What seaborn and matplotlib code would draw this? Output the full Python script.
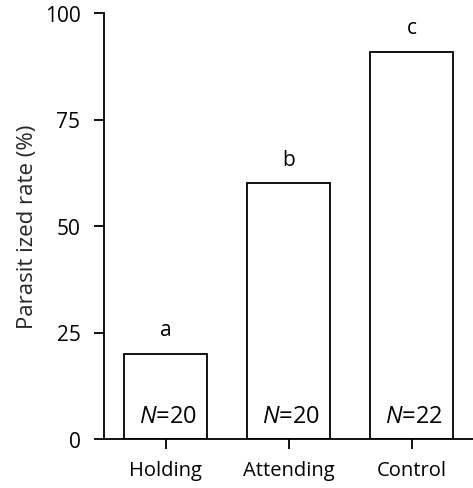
import matplotlib
matplotlib.use("Agg")
import matplotlib.pyplot as plt
import seaborn as sns
import pandas as pd

categories = ["Holding", "Attending", "Control"]
rates = [20.0, 60.0, 90.9]
letters = ["a", "b", "c"]
sample_sizes = [20, 20, 22]
yticks = [0, 25, 50, 75, 100]

sns.set_theme(style="ticks")
plt.rcParams["font.family"] = ["Open Sans", "DejaVu Sans"]
plt.rcParams["mathtext.fontset"] = "custom"
plt.rcParams["mathtext.it"] = "Open Sans:italic"
plt.rcParams["mathtext.rm"] = "Open Sans"

df = pd.DataFrame({"group": categories, "rate": rates})

fig = plt.figure(figsize=(4.73, 4.89), dpi=100)
ax = fig.add_axes([104 / 473, 1 - 440 / 489, 1 - 104 / 473, (440 - 14) / 489])

sns.barplot(data=df, x="group", y="rate", color="white", edgecolor="black",
            linewidth=1.3, width=0.67, saturation=1, ax=ax)

ax.set_xlim(-0.5, 2.5)
ax.set_ylim(0, 100)
ax.set_yticks(yticks)
ax.set_yticklabels([str(t) for t in yticks])
ax.set_xlabel("")
ax.set_ylabel("Parasit ized rate (%)", fontsize=16, labelpad=5)

for s in ["top", "right"]:
    ax.spines[s].set_visible(False)
for s in ["left", "bottom"]:
    ax.spines[s].set_linewidth(1.3)
    ax.spines[s].set_color("black")

ax.tick_params(axis="both", which="major", length=7, width=1.3, color="black",
               labelcolor="black")
ax.tick_params(axis="y", pad=10, labelsize=15)
ax.tick_params(axis="x", pad=8, labelsize=14.5)

for i, (r, let, n) in enumerate(zip(rates, letters, sample_sizes)):
    ax.text(i, r + 4.4, let, ha="center", va="baseline", fontsize=15, color="black")
    ax.text(i + 0.02, 4.0, r"$\mathit{N}$=" + str(n), ha="center", va="baseline",
            fontsize=17, color="black")

fig.savefig("out.png", dpi=100)
